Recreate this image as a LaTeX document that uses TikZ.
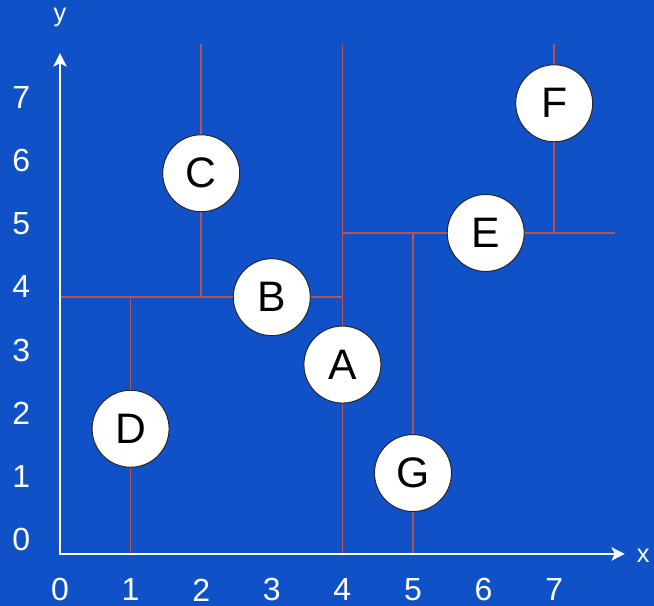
\documentclass[tikz,border=0pt]{standalone}
\usepackage{fontspec}
\setmainfont{Liberation Sans}
\usetikzlibrary{arrows.meta}

\definecolor{planeblue}{RGB}{16,81,199}
\definecolor{splitred}{RGB}{184,84,80}

\begin{document}
\begin{tikzpicture}[
    x=52.95pt,
    y=48.15pt,
    point/.style={
        circle,
        draw=black!85,
        line width=0.75pt,
        fill=white,
        minimum size=57.75pt,
        inner sep=0pt,
        font=\fontsize{32}{32}\selectfont
    },
    split/.style={
        draw=splitred,
        line width=1.1pt
    },
    axis/.style={
        draw=white,
        line width=1.5pt,
        line join=miter,
        {Stealth[length=10pt,width=10pt,inset=2.5pt]}-{Stealth[length=10pt,width=10pt,inset=2.5pt]}
    },
    ticklabel/.style={
        text=white,
        font=\fontsize{24}{24}\selectfont
    },
    axislabel/.style={
        text=white,
        font=\fontsize{19}{19}\selectfont
    }
]

% =========================================================
% FONDO
% =========================================================

\fill[planeblue] (-0.850,-0.810) rectangle (8.414,8.629);
\useasboundingbox (-0.850,-0.810) rectangle (8.414,8.629);

% =========================================================
% DIVISIONES DEL PLANO
% =========================================================

\draw[split] (4,0) -- (4,7.94);
\draw[split] (0,4) -- (4,4);
\draw[split] (2,4) -- (2,7.94);
\draw[split] (1,0) -- (1,4);
\draw[split] (4,5) -- (7.86,5);
\draw[split] (5,0) -- (5,5);
\draw[split] (7,5) -- (7,7.94);

% =========================================================
% EJES
% =========================================================

\draw[axis] (0,7.8) -- (0,0) -- (8.0,0);

\node[axislabel] (xlabel) at (8.26,-0.03) {x};
\node[axislabel] (ylabel) at (0,8.35) {y};

\foreach \k in {0,...,7} {
    \node[ticklabel] (xtick\k) at (\k,-0.56) {\k};
    \node[ticklabel] (ytick\k) at (-0.55,{0.985*\k+0.22}) {\k};
}

% =========================================================
% PUNTOS
% =========================================================

\node[point] (A) at (4,2.95) {A};
\node[point] (B) at (3,4) {B};
\node[point] (C) at (2,5.93) {C};
\node[point] (D) at (1,1.95) {D};
\node[point] (E) at (6.03,5) {E};
\node[point] (F) at (7,7.02) {F};
\node[point] (G) at (5,1.26) {G};

\end{tikzpicture}
\end{document}
